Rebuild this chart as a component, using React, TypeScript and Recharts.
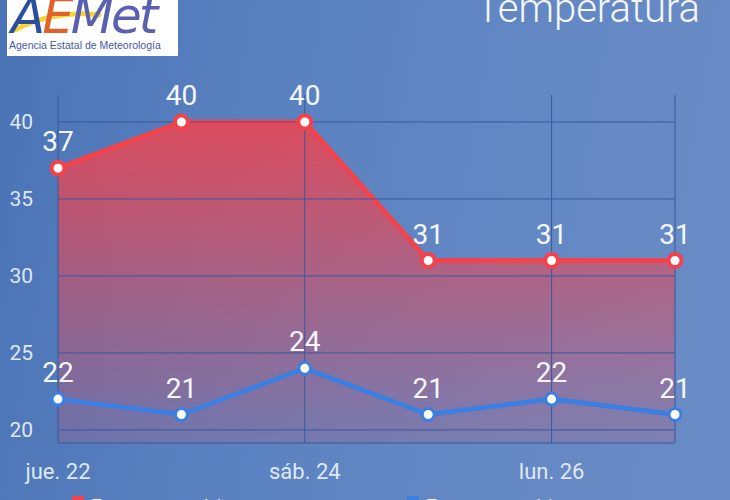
import React from "react";
import {
  ComposedChart,
  Area,
  Line,
  XAxis,
  YAxis,
  ReferenceLine,
  LabelList,
  Legend,
} from "recharts";

const days = ["jue. 22", "vie. 23", "sáb. 24", "dom. 25", "lun. 26", "mar. 27"];
const maxTemps = [37, 40, 40, 31, 31, 31];
const minTemps = [22, 21, 24, 21, 22, 21];
const yTicks = [20, 25, 30, 35, 40];
const xTickDays = [days[0], days[2], days[4]];
const gridDays = [days[2], days[4], days[5]];

const data = days.map((d, i) => ({ day: d, max: maxTemps[i], min: minTemps[i] }));

const RED = "#f2434d";
const BLUE = "#3b7fe0";
const GRID = "#37599d";
const TEXT = "#dfe7f5";
const FONT = "Roboto, 'Noto Sans', sans-serif";

const LegendContent = (props: any) => {
  const payload = props.payload || [];
  return (
    <div style={{ display: "flex", fontFamily: FONT }}>
      {payload.map((p: any, i: number) => (
        <div key={i} style={{ width: 335, display: "flex", alignItems: "flex-start" }}>
          <span
            style={{
              display: "inline-block",
              width: 12,
              height: 12,
              marginTop: 0,
              background: p.color,
              marginRight: 8,
            }}
          />
          <span style={{ color: "#eef3fb", fontSize: 16, lineHeight: "20px" }}>{p.value}</span>
        </div>
      ))}
    </div>
  );
};

export default function App() {
  return (
    <div
      style={{
        position: "fixed",
        left: 0,
        top: 0,
        width: 730,
        height: 500,
        overflow: "hidden",
        background:
          "linear-gradient(100deg, #4a73b6 0%, #5880bf 30%, #6488c4 70%, #6a8cc6 100%)",
        fontFamily: FONT,
      }}
    >
      {/* Logo */}
      <div
        style={{
          position: "absolute",
          left: 7,
          top: 0,
          width: 171,
          height: 56,
          background: "#ffffff",
          overflow: "hidden",
        }}
      >
        <svg width={171} height={56} style={{ position: "absolute", left: 0, top: 0 }}>
          <path d="M8 30 C 30 18, 60 11, 92 15" stroke="#f4d53a" strokeWidth={5} fill="none" strokeLinecap="round" />
        </svg>
        <div
          style={{
            position: "absolute",
            left: 4,
            top: -4,
            fontSize: 50,
            lineHeight: "40px",
            fontStyle: "italic",
            fontFamily: "'DejaVu Sans', sans-serif",
            whiteSpace: "nowrap",
            letterSpacing: -3,
          }}
        >
          <span style={{ color: "#2b4f9f" }}>A</span>
          <span style={{ color: "#e1602b" }}>E</span>
          <span style={{ color: "#5a5fae" }}>Met</span>
        </div>
        <div
          style={{
            position: "absolute",
            left: 2,
            top: 39,
            fontSize: 10.5,
            color: "#3f5ba6",
            whiteSpace: "nowrap",
            fontFamily: "'Liberation Sans', Arial, sans-serif",
          }}
        >
          Agencia Estatal de Meteorología
        </div>
      </div>

      {/* Title */}
      <div
        style={{
          position: "absolute",
          right: 30,
          top: -15,
          fontSize: 40,
          fontWeight: 300,
          color: "#f4f7fc",
          whiteSpace: "nowrap",
          lineHeight: "48px",
        }}
      >
        Temperatura
      </div>

      <div style={{ position: "absolute", left: 0, top: 0 }}>
        <ComposedChart
          width={730}
          height={500}
          data={data}
          margin={{ top: 95, right: 55, left: 0, bottom: 27 }}
        >
          <defs>
            <linearGradient id="redFill" x1="0" y1="0" x2="0" y2="1">
              <stop offset="0%" stopColor={RED} stopOpacity={0.85} />
              <stop offset="100%" stopColor={RED} stopOpacity={0.15} />
            </linearGradient>
          </defs>
          {yTicks.map((t) => (
            <ReferenceLine key={"y" + t} y={t} stroke={GRID} strokeWidth={1} />
          ))}
          {gridDays.map((d) => (
            <ReferenceLine key={d} x={d} stroke={GRID} strokeWidth={1} />
          ))}
          <XAxis
            dataKey="day"
            ticks={xTickDays}
            interval={0}
            tickLine={false}
            tickSize={0}
            tickMargin={20}
            axisLine={{ stroke: GRID, strokeWidth: 1 }}
            height={30}
            tick={{ fill: TEXT, fontSize: 22, fontFamily: FONT }}
          />
          <YAxis
            type="number"
            domain={[19.15, 41.75]}
            allowDataOverflow
            ticks={yTicks}
            width={58}
            tickLine={false}
            tickSize={0}
            tickMargin={25}
            axisLine={{ stroke: GRID, strokeWidth: 1 }}
            tick={{ fill: TEXT, fontSize: 21, fontFamily: FONT }}
          />
          <Area
            type="linear"
            dataKey="max"
            name="Temperatura máxima"
            stroke={RED}
            strokeWidth={5}
            fill="url(#redFill)"
            fillOpacity={1}
            legendType="square"
            dot={{ r: 6.5, fill: "#ffffff", stroke: RED, strokeWidth: 4, fillOpacity: 1 }}
            activeDot={false}
            isAnimationActive={false}
          >
            <LabelList
              dataKey="max"
              position="top"
              offset={17}
              fill="#f4f7fc"
              fontSize={28}
              fontFamily={FONT}
            />
          </Area>
          <Line
            type="linear"
            dataKey="min"
            name="Temperatura mínima"
            stroke={BLUE}
            strokeWidth={5}
            legendType="square"
            dot={{ r: 6, fill: "#ffffff", stroke: BLUE, strokeWidth: 3 }}
            activeDot={false}
            isAnimationActive={false}
          >
            <LabelList
              dataKey="min"
              position="top"
              offset={17}
              fill="#f4f7fc"
              fontSize={28}
              fontFamily={FONT}
            />
          </Line>
          <Legend
            verticalAlign="middle"
            layout="horizontal"
            align="center"
            content={<LegendContent />}
            wrapperStyle={{ position: "absolute", top: 496, left: 72, width: 680 }}
          />
        </ComposedChart>
      </div>
    </div>
  );
}
